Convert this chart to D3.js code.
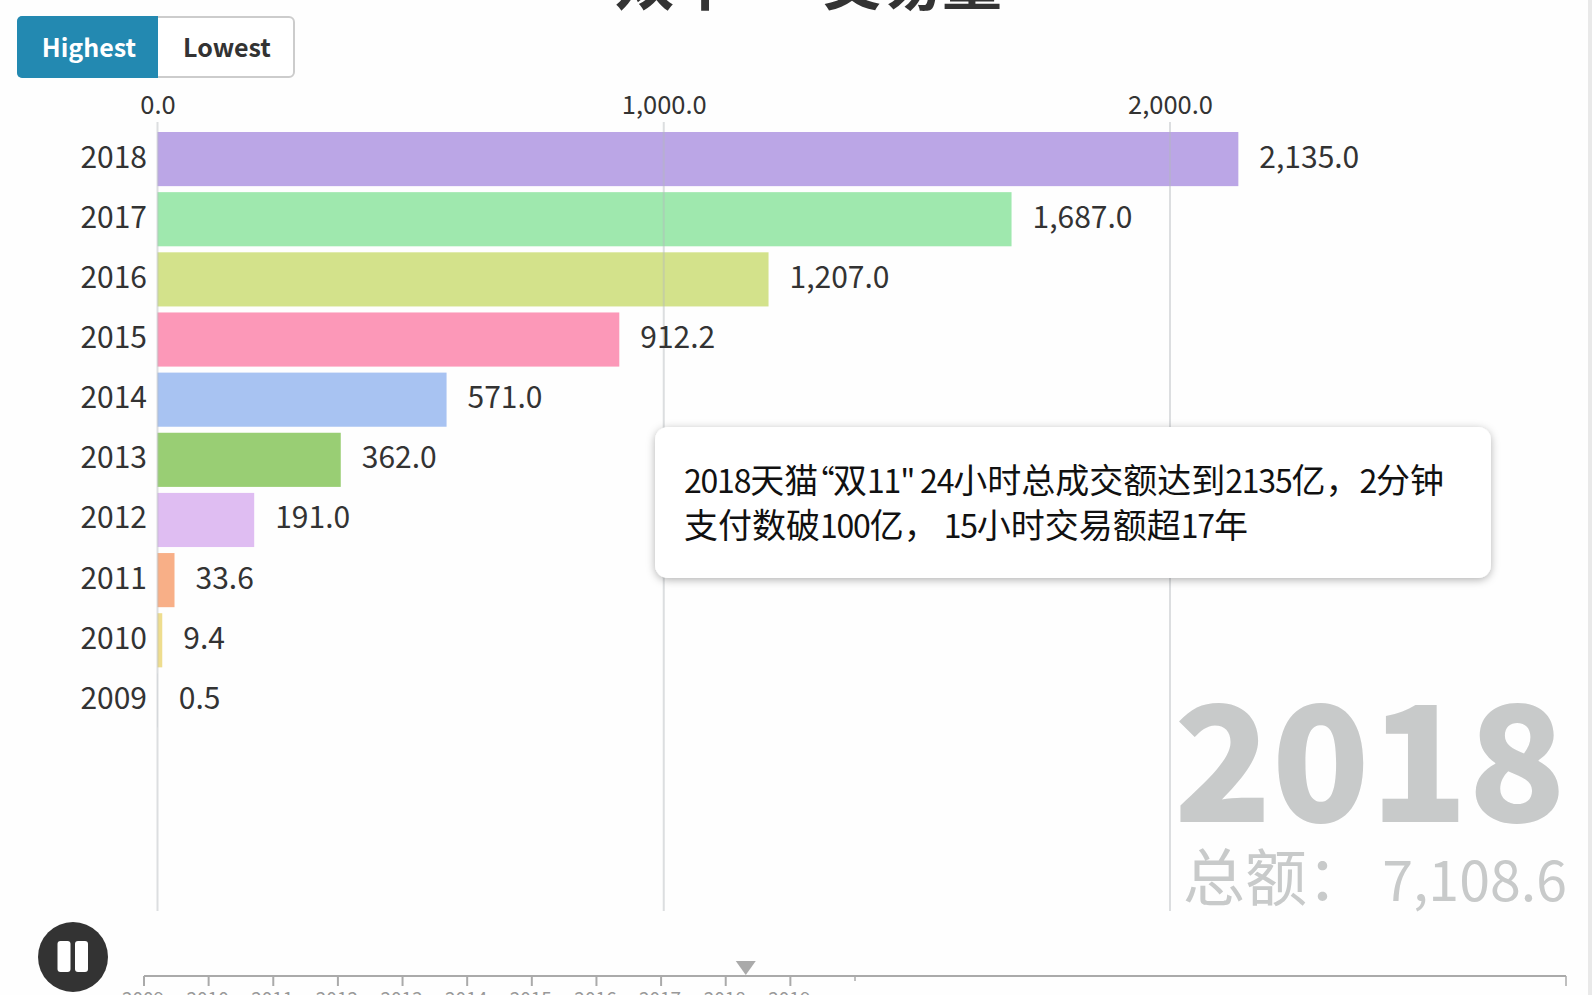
<!DOCTYPE html>
<html>
<head>
<meta charset="utf-8">
<script src="https://d3js.org/d3.v7.min.js"></script>
<style>
    html, body { margin: 0; padding: 0; background: #fefefe; overflow: hidden; }
    svg { display: block; font-family: "Noto Sans CJK SC", "Noto Sans", sans-serif; }
</style>
</head>
<body>
<svg id="chart" width="1592" height="995"></svg>
<script>
const years = ['2018', '2017', '2016', '2015', '2014', '2013', '2012', '2011', '2010', '2009'];
const amounts = [2135, 1687, 1207, 912.2, 571, 362, 191, 33.6, 9.4, 0.5];
const barColors = ['#bba6e6', '#9fe8ae', '#d3e28b', '#fc98b8', '#a8c3f2', '#99ce74', '#dfbdf2', '#f8af87', '#eedd8e', '#c9d3dc'];
const axisTicks = [0, 1000, 2000];
const totalShown = 7108.6; // as printed, the rounded bars add up to .7
const timelineYears = [2009, 2010, 2011, 2012, 2013, 2014, 2015, 2016, 2017, 2018, 2019];
const timelineExtraTicks = [2020, 2031];
const playhead = 2018.31;
const noteLines = ['2018天猫“双11" 24小时总成交额达到2135亿，2分钟', '支付数破100亿， 15小时交易额超17年'];
const titleParts = ['双十一', '交易量'];
const buttons = ['Highest', 'Lowest'];

const svg = d3.select('#chart');
const x = d3.scaleLinear().domain([0, 2000]).range([157.5, 1170]);
const y = d3.scaleBand().domain(years).range([129, 730.5]).paddingInner(0.1).paddingOuter(0.05);
const color = d3.scaleOrdinal().domain(years).range(barColors);
const fmt = d3.format(',.1f');

// scrollbar strip on the right edge
svg.append('rect').attr('x', 1588).attr('y', 0).attr('width', 4).attr('height', 995).attr('fill', '#e9e9e9');

// title, cut off by the top of the page
svg.append('text').attr('x', 615).attr('y', 5).attr('font-size', 60).attr('font-weight', 700).attr('fill', '#333').text(titleParts[0]);
svg.append('text').attr('x', 822).attr('y', 5).attr('font-size', 60).attr('font-weight', 700).attr('fill', '#333').text(titleParts[1]);

// highest / lowest buttons
const btn = svg.append('g');
btn.append('rect').attr('x', 18).attr('y', 17).attr('width', 276).attr('height', 60).attr('rx', 5)
    .attr('fill', '#fff').attr('stroke', '#ccc').attr('stroke-width', 2);
btn.append('path').attr('d', 'M158,16H22a5,5 0 0 0 -5,5V73a5,5 0 0 0 5,5H158Z').attr('fill', '#2389b1');
btn.selectAll('text').data(buttons).join('text')
    .attr('x', (d, i) => i === 0 ? 89 : 227).attr('y', 57)
    .attr('text-anchor', 'middle').attr('font-size', 25).attr('font-weight', 700)
    .attr('fill', (d, i) => i === 0 ? '#fff' : '#333').text(d => d);

// big year and total, behind the bars
svg.append('text').attr('x', 1566).attr('y', 822).attr('text-anchor', 'end')
    .attr('font-size', 161).attr('font-weight', 900).attr('fill', '#c8caca').text(years[0]);
svg.append('text').attr('x', 1183).attr('y', 901).attr('font-size', 62).attr('fill', '#c8caca').text('总额：');
svg.append('text').attr('x', 1567).attr('y', 901).attr('text-anchor', 'end')
    .attr('font-size', 55.5).attr('fill', '#c8caca').text(fmt(totalShown));

// bars
svg.append('g').selectAll('rect').data(years).join('rect')
    .attr('x', x(0))
    .attr('y', d => y(d))
    .attr('width', (d, i) => x(amounts[i]) - x(0))
    .attr('height', y.bandwidth())
    .attr('fill', d => color(d));

// value axis with gridlines over the bars
const xAxis = d3.axisTop(x).tickValues(axisTicks).tickFormat(fmt).tickSize(0).tickPadding(0);
const gx = svg.append('g').attr('transform', 'translate(0,114)').call(xAxis).attr('font-family', null);
gx.select('.domain').remove();
gx.selectAll('text').attr('font-size', 25.5).attr('fill', '#333');
svg.append('g').selectAll('line').data(axisTicks).join('line')
    .attr('x1', d => x(d)).attr('x2', d => x(d))
    .attr('y1', 122).attr('y2', 911)
    .attr('stroke', '#b4b8bd').attr('stroke-opacity', 0.45).attr('stroke-width', 2);

// row labels and values
svg.append('g').selectAll('text').data(years).join('text')
    .attr('x', 147).attr('y', d => y(d) + y.bandwidth() / 2 + 8.5)
    .attr('text-anchor', 'end').attr('font-size', 30).attr('fill', '#333').text(d => d);
svg.append('g').selectAll('text').data(amounts).join('text')
    .attr('x', d => x(d) + 21).attr('y', (d, i) => y(years[i]) + y.bandwidth() / 2 + 8.5)
    .attr('font-size', 30).attr('fill', '#333').text(d => fmt(d));

// note popup
const shadow = svg.append('defs').append('filter').attr('id', 'shadow')
    .attr('x', '-5%').attr('y', '-15%').attr('width', '110%').attr('height', '130%');
shadow.append('feDropShadow').attr('dx', 0).attr('dy', 2).attr('stdDeviation', 4)
    .attr('flood-color', '#000').attr('flood-opacity', 0.3);
svg.append('rect').attr('x', 655).attr('y', 427).attr('width', 836).attr('height', 151).attr('rx', 13)
    .attr('fill', '#fff').attr('filter', 'url(#shadow)');

// latin runs are set narrower than the chinese in the popup
const isLatin = d => /^[0-9"“ ]/.test(d);
const noteText = svg.append('g').selectAll('text').data(noteLines).join('text')
    .attr('x', 684).attr('y', (d, i) => 493 + i * 45)
    .attr('font-size', 34).attr('fill', '#111')
    .style('white-space', 'pre');
noteText.selectAll('tspan').data(d => d.match(/[0-9"“ ]+|[^0-9"“ ]+/g)).join('tspan')
    .attr('font-size', d => isLatin(d) ? 32 : 34)
    .attr('letter-spacing', d => isLatin(d) ? -1.2 : null)
    .style('font-feature-settings', d => isLatin(d) ? '"palt"' : null)
    .text(d => d);

// pause button
svg.append('circle').attr('cx', 73).attr('cy', 957).attr('r', 35).attr('fill', '#333');
svg.append('g').selectAll('rect').data([57.5, 75]).join('rect')
    .attr('x', d => d).attr('y', 941).attr('width', 13).attr('height', 31).attr('rx', 3).attr('fill', '#fff');

// timeline
const tx = d3.scaleLinear().domain([2009, 2031]).range([144, 1566]);
const tl = svg.append('g').attr('transform', 'translate(0,976)');
tl.append('line').attr('x1', tx(2009)).attr('x2', tx(2031)).attr('stroke', '#aaa').attr('stroke-width', 2);
tl.selectAll('line.tick').data(timelineYears).join('line').attr('class', 'tick')
    .attr('x1', d => tx(d)).attr('x2', d => tx(d)).attr('y1', 0).attr('y2', 10)
    .attr('stroke', '#aaa').attr('stroke-width', 2);
tl.selectAll('line.extra').data(timelineExtraTicks).join('line').attr('class', 'extra')
    .attr('x1', d => tx(d)).attr('x2', d => tx(d)).attr('y1', 0).attr('y2', d => d === 2031 ? 10 : 5)
    .attr('stroke', '#aaa').attr('stroke-width', 1.5);
tl.selectAll('text').data(timelineYears).join('text')
    .attr('x', d => tx(d) - 1).attr('y', 30).attr('text-anchor', 'middle')
    .attr('font-size', 19).attr('fill', '#999').text(d => d);
tl.append('path').attr('transform', 'translate(' + tx(playhead) + ',0)')
    .attr('d', d3.line()([[-10, -15], [10, -15], [0, -1]])).attr('fill', '#aaa');
</script>
</body>
</html>
